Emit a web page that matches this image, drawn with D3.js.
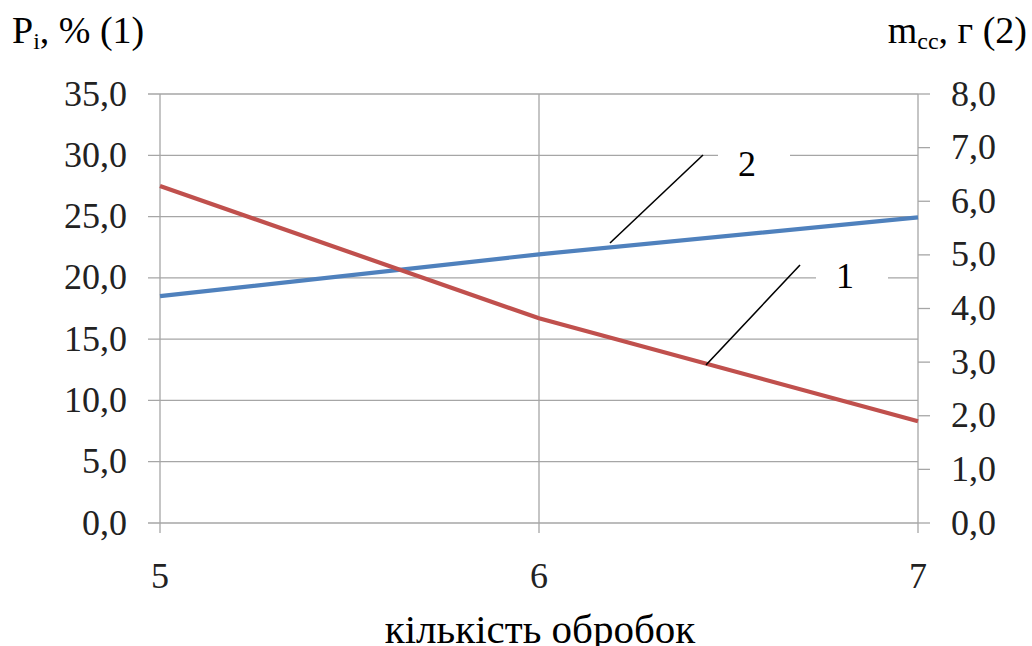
<!DOCTYPE html>
<html>
<head>
<meta charset="utf-8">
<script src="https://cdn.jsdelivr.net/npm/d3@7"></script>
<style>
  html, body { margin: 0; padding: 0; background: #fff; }
  svg { display: block; }
</style>
</head>
<body>
<svg id="chart" width="1032" height="646"></svg>
<script>
// ---- data ----
const categories = [5, 6, 7];
const seriesP = [27.5, 16.7, 8.3];      // Pi, % (1) — left axis
const seriesM = [4.23, 5.01, 5.70];     // mcc, г (2) — right axis
const leftTicks = [0, 5, 10, 15, 20, 25, 30, 35];
const rightTicks = [0, 1, 2, 3, 4, 5, 6, 7, 8];
const xLabel = "кількість обробок";

// ---- layout ----
const FONT = "'Liberation Serif'";
const svg = d3.select("#chart");
const L = 160, R = 918, T = 94, B = 523;
const gridColor = "#a6a6a6";

const x = d3.scaleLinear().domain([5, 7]).range([L, R]);
const yL = d3.scaleLinear().domain([0, 35]).range([B, T]);
const yR = d3.scaleLinear().domain([0, 8]).range([B, T]);
const fmt = v => d3.format(".1f")(v).replace(".", ",");

// horizontal gridlines (left ticks)
svg.append("g").selectAll("line").data(leftTicks).join("line")
  .attr("x1", L - 12).attr("x2", R)
  .attr("y1", d => yL(d)).attr("y2", d => yL(d))
  .attr("stroke", gridColor).attr("stroke-width", 1.3);

// right tick marks
svg.append("g").selectAll("line").data(rightTicks).join("line")
  .attr("x1", R).attr("x2", R + 12)
  .attr("y1", d => yR(d)).attr("y2", d => yR(d))
  .attr("stroke", gridColor).attr("stroke-width", 1.3);

// vertical lines at categories
svg.append("g").selectAll("line").data(categories).join("line")
  .attr("x1", d => x(d)).attr("x2", d => x(d))
  .attr("y1", T).attr("y2", B + 10)
  .attr("stroke", gridColor).attr("stroke-width", 1.3);

// tick labels
svg.append("g").selectAll("text").data(leftTicks).join("text")
  .attr("x", 127).attr("y", d => yL(d) + 11.5)
  .attr("text-anchor", "end").attr("font-size", 36).attr("fill", "#222")
  .style("font-family", FONT)
  .text(fmt);
svg.append("g").selectAll("text").data(rightTicks).join("text")
  .attr("x", 951).attr("y", d => yR(d) + 11.5)
  .attr("text-anchor", "start").attr("font-size", 36).attr("fill", "#222")
  .style("font-family", FONT)
  .text(fmt);
svg.append("g").selectAll("text").data(categories).join("text")
  .attr("x", d => x(d)).attr("y", 588)
  .attr("text-anchor", "middle").attr("font-size", 36).attr("fill", "#222")
  .style("font-family", FONT)
  .text(d => d);

// series lines
const lineP = d3.line().x((d, i) => x(categories[i])).y(d => yL(d));
const lineM = d3.line().x((d, i) => x(categories[i])).y(d => yR(d));
svg.append("path").datum(seriesM).attr("d", lineM)
  .attr("fill", "none").attr("stroke", "#4f81bd").attr("stroke-width", 4.2);
svg.append("path").datum(seriesP).attr("d", lineP)
  .attr("fill", "none").attr("stroke", "#c0504d").attr("stroke-width", 4.2);

// annotation labels with white boxes
const labels = [
  { text: "2", x: 747, y: 176, box: [718, 139, 72, 40], lead: [610, 243, 703, 155] },
  { text: "1", x: 845, y: 288, box: [816, 258, 72, 40], lead: [706, 365, 800, 265] }
];
labels.forEach(l => {
  svg.append("rect").attr("x", l.box[0]).attr("y", l.box[1])
    .attr("width", l.box[2]).attr("height", l.box[3]).attr("fill", "#fff");
  svg.append("line").attr("x1", l.lead[0]).attr("y1", l.lead[1])
    .attr("x2", l.lead[2]).attr("y2", l.lead[3])
    .attr("stroke", "#000").attr("stroke-width", 1.6);
  svg.append("text").attr("x", l.x).attr("y", l.y)
    .attr("text-anchor", "middle").attr("font-size", 36).attr("fill", "#000")
    .style("font-family", FONT)
    .text(l.text);
});

// axis titles
const tL = svg.append("text").attr("x", 12).attr("y", 43).attr("font-size", 38)
  .attr("fill", "#000").style("font-family", FONT);
tL.append("tspan").text("P");
tL.append("tspan").attr("font-size", 24).attr("dy", 6).text("i");
tL.append("tspan").attr("dy", -6).text(", % (1)");

const tR = svg.append("text").attr("x", 1027).attr("y", 43).attr("font-size", 38)
  .attr("text-anchor", "end").attr("fill", "#000").style("font-family", FONT);
tR.append("tspan").text("m");
tR.append("tspan").attr("font-size", 24).attr("dy", 6).text("cc");
tR.append("tspan").attr("dy", -6).text(", г (2)");

svg.append("text").attr("x", 540).attr("y", 643).attr("text-anchor", "middle")
  .attr("font-size", 41).attr("fill", "#000").style("font-family", FONT).text(xLabel);
</script>
</body>
</html>
